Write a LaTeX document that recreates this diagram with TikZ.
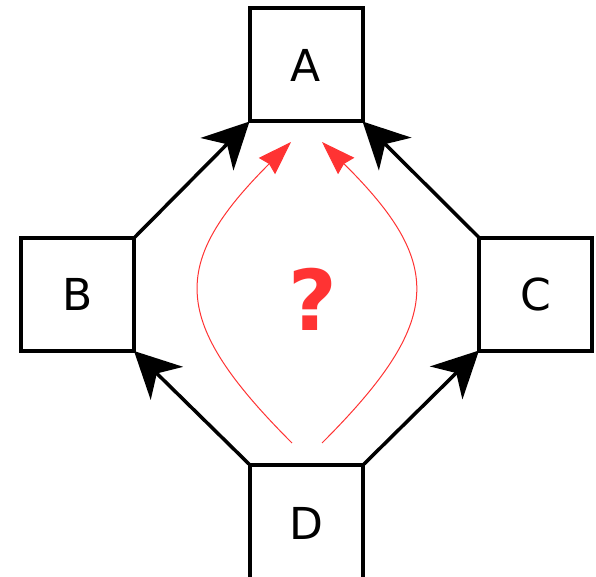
\documentclass[tikz,border=0pt]{standalone}
\usepackage{fontspec}
\setmainfont{DejaVu Sans}
\usetikzlibrary{arrows.meta}
\definecolor{qred}{RGB}{255,51,51}
\tikzset{
  box/.style={draw=black, line width=4pt, minimum size=113pt, inner sep=0pt,
    outer sep=0pt, font=\fontsize{44}{44}\selectfont},
  flow/.style={line width=3.5pt, -{Stealth[length=46pt,width=46pt,inset=14pt]}},
  guess/.style={draw=qred, line width=1pt, -{Stealth[length=34pt,width=23pt,inset=3pt]}, color=qred}
}
\begin{document}
\begin{tikzpicture}[x=1pt,y=-1pt]
  \useasboundingbox (0,0) rectangle (596,577);
  \node[box] (A) at (306,65) {A};
  \node[box] (B) at (77.5,294.5) {B};
  \node[box] (C) at (535.5,294) {C};
  % the lower box runs past the bottom edge
  \node[box, minimum height=120pt, text depth=0pt] (D) at (306.5,525) {\raisebox{3.5pt}{D}};
  \draw[flow] (B.north east) -- (A.south west);
  \draw[flow] (C.north west) -- (A.south east);
  \draw[flow] (D.north west) -- (B.south east);
  \draw[flow] (D.north east) -- (C.south west);
  \coordinate (l0) at (292,443);
  \coordinate (l1) at (291,142);
  \coordinate (r0) at (322,443);
  \coordinate (r1) at (322,142);
  \draw[guess] (l0) .. controls (170,321) and (169,264) .. (l1);
  \draw[guess] (r0) .. controls (444,321) and (445,264) .. (r1);
  \node[text=qred, font=\fontsize{84}{84}\selectfont\bfseries] (q) at (313,299) {?};
\end{tikzpicture}
\end{document}
